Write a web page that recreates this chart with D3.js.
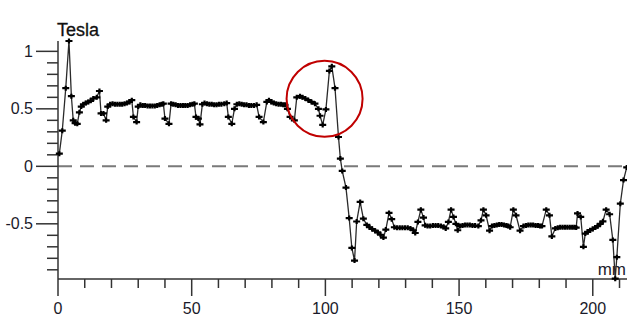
<!DOCTYPE html>
<html>
<head>
<meta charset="utf-8">
<script src="https://cdn.jsdelivr.net/npm/d3@7"></script>
<style>
  html, body { margin: 0; padding: 0; background: #fff; }
  svg { display: block; font-family: 'Liberation Sans', Arial, sans-serif; }
</style>
</head>
<body>
<svg id="chart" width="627" height="322"></svg>
<script>
// position along the magnet, mm
const positions = [
  0.5, 1.6, 2.9, 4.1, 5.0, 5.7, 6.4, 7.2, 8.0, 8.7, 9.5, 10.4, 11.3, 12.2, 13.2, 14.5, 15.5, 16.1, 17.0, 18.0, 18.6, 19.5,
  20.4, 21.3, 22.2, 23.1, 24.0, 24.9, 25.8, 26.7, 27.6, 28.2, 29.4, 30.0,
  30.8, 31.7, 32.6, 33.5, 34.4, 35.3, 36.2, 37.1, 38.0, 38.8, 39.4, 40.0, 41.5, 42.3,
  43.1, 44.0, 44.9, 45.8, 46.7, 47.6, 48.5, 49.4, 50.3, 51.0, 51.6, 52.5, 53.1, 54.0,
  54.8, 55.7, 56.6, 57.5, 58.4, 59.3, 60.2, 61.1, 62.2, 63.1, 63.7, 65.0, 66.0, 66.9,
  67.8, 68.7, 69.6, 70.5, 71.4, 72.3, 73.3, 74.3, 75.2, 76.8, 78.1, 78.9,
  79.8, 80.7, 81.6, 82.5, 83.4, 84.2, 84.9, 85.8, 86.8, 88.4, 89.3, 90.5, 91.4, 92.5, 93.6, 94.8, 96.1, 97.4, 98.0, 99.0,
  100.2, 101.5, 102.4, 103.6, 104.9, 105.6, 106.3, 107.7, 108.9, 109.9, 110.9, 111.7, 113.0, 114.2, 115.5, 116.5, 117.5,
  118.6, 119.6, 120.6, 121.7, 122.6, 123.8, 124.8, 125.8,
  126.8, 127.8, 128.8, 129.8, 130.8, 131.8, 132.9, 133.6, 134.6, 135.7, 136.7, 137.3,
  138.2, 139.2, 140.2, 141.2, 142.2, 143.2, 144.2, 145.0, 146.0, 147.0, 147.9, 148.8, 149.5, 150.4,
  151.3, 152.2, 153.1, 154.0, 155.0, 156.0, 157.2, 158.2, 159.1, 160.1, 161.4, 162.3,
  163.2, 164.1, 165.0, 165.9, 166.8, 167.7, 168.4, 169.1, 170.3, 171.3, 172.8, 174.1,
  175.0, 175.9, 176.8, 177.7, 178.6, 179.5, 180.3, 181.0, 182.6, 183.8, 184.7, 186.0,
  186.9, 187.8, 188.7, 189.6, 190.5, 191.4, 192.3, 193.1, 193.8, 194.3, 195.5, 196.5, 197.2, 198.1, 199.0, 200.0,
  200.9, 201.8, 202.8, 203.8, 205.0, 206.3, 207.5, 208.4, 209.0, 210.3, 211.5, 212.7
];

// field, Tesla
const field = [
  0.11, 0.31, 0.68, 1.09, 0.61, 0.40, 0.375, 0.37, 0.47, 0.52, 0.54, 0.55, 0.56, 0.57, 0.59, 0.60, 0.655, 0.46, 0.46, 0.40, 0.52, 0.54,
  0.545, 0.54, 0.54, 0.54, 0.54, 0.545, 0.55, 0.56, 0.575, 0.43, 0.385, 0.52,
  0.535, 0.53, 0.53, 0.525, 0.525, 0.525, 0.525, 0.53, 0.535, 0.54, 0.545, 0.415, 0.37, 0.545,
  0.54, 0.535, 0.53, 0.53, 0.53, 0.53, 0.53, 0.535, 0.54, 0.545, 0.43, 0.415, 0.365, 0.54,
  0.55, 0.545, 0.54, 0.54, 0.535, 0.535, 0.54, 0.54, 0.545, 0.55, 0.43, 0.37, 0.50, 0.54,
  0.545, 0.54, 0.535, 0.535, 0.53, 0.53, 0.53, 0.535, 0.43, 0.385, 0.56, 0.575,
  0.56, 0.55, 0.545, 0.54, 0.54, 0.535, 0.535, 0.50, 0.43, 0.40, 0.60, 0.61, 0.60, 0.59, 0.575, 0.56, 0.545, 0.50, 0.44, 0.36,
  0.495, 0.83, 0.87, 0.68, 0.255, 0.067, -0.04, -0.185, -0.45, -0.71, -0.82, -0.48, -0.31, -0.455, -0.51, -0.53, -0.545,
  -0.56, -0.575, -0.595, -0.62, -0.55, -0.405, -0.46, -0.53,
  -0.535, -0.535, -0.535, -0.535, -0.535, -0.54, -0.556, -0.58, -0.484, -0.377, -0.446, -0.513,
  -0.52, -0.52, -0.515, -0.515, -0.515, -0.52, -0.525, -0.54, -0.484, -0.377, -0.44, -0.50, -0.556, -0.52,
  -0.515, -0.51, -0.51, -0.51, -0.515, -0.515, -0.52, -0.47, -0.377, -0.426, -0.56, -0.52,
  -0.515, -0.51, -0.505, -0.505, -0.51, -0.515, -0.52, -0.53, -0.377, -0.426, -0.56, -0.52,
  -0.515, -0.51, -0.51, -0.51, -0.515, -0.515, -0.52, -0.52, -0.377, -0.426, -0.61, -0.54,
  -0.535, -0.53, -0.53, -0.53, -0.53, -0.53, -0.53, -0.53, -0.533, -0.41, -0.44, -0.70, -0.585, -0.57, -0.555, -0.545,
  -0.533, -0.52, -0.50, -0.478, -0.377, -0.417, -0.64, -0.977, -0.79, -0.325, -0.12, -0.01
];

const xMajor = [0, 50, 100, 150, 200];
const xMinor = [10, 20, 30, 40, 60, 70, 80, 90, 110, 120, 130, 140, 160, 170, 180, 190, 210];
const yMajor = [-0.5, 0, 0.5, 1];
const yMinor = [-0.9, -0.8, -0.7, -0.6, -0.4, -0.3, -0.2, -0.1, 0.1, 0.2, 0.3, 0.4, 0.6, 0.7, 0.8, 0.9];

// highlighted region (data coords)
const highlight = { x: 99.7, y: 0.587 };

const svg = d3.select('#chart');
const axisColor = '#333';

const x = d3.scaleLinear().domain([0, 212.8]).range([58, 627]);
const y = d3.scaleLinear().domain([-0.98, 1.09]).range([279, 41]);

const data = positions.map((p, i) => ({ x: p, y: field[i] }));

// zero reference line
svg.append('line')
  .attr('x1', x(0)).attr('x2', x(212.8))
  .attr('y1', y(0)).attr('y2', y(0))
  .attr('stroke', '#7a7a7a')
  .attr('stroke-width', 2)
  .attr('stroke-dasharray', '14,8');

// y axis
svg.append('line')
  .attr('x1', x(0)).attr('x2', x(0))
  .attr('y1', y(1.09)).attr('y2', y(-0.98))
  .attr('stroke', axisColor).attr('stroke-width', 1.5);

svg.append('g').selectAll('line')
  .data(yMajor.map(v => ({ v, len: 22 })).concat(yMinor.map(v => ({ v, len: 11 }))))
  .join('line')
  .attr('x1', d => x(0) - d.len).attr('x2', x(0))
  .attr('y1', d => y(d.v)).attr('y2', d => y(d.v))
  .attr('stroke', axisColor).attr('stroke-width', 1.5);

svg.append('g').selectAll('text')
  .data(yMajor)
  .join('text')
  .attr('x', 33)
  .attr('y', d => y(d))
  .attr('dy', '0.35em')
  .attr('text-anchor', 'end')
  .attr('font-size', 16)
  .attr('fill', '#1a1a2a')
  .text(d => d);

// x axis
svg.append('line')
  .attr('x1', x(0)).attr('x2', 627)
  .attr('y1', y(-0.98)).attr('y2', y(-0.98))
  .attr('stroke', axisColor).attr('stroke-width', 1.5);

svg.append('g').selectAll('line')
  .data(xMajor.map(v => ({ v, len: 17 })).concat(xMinor.map(v => ({ v, len: 9 }))))
  .join('line')
  .attr('x1', d => x(d.v)).attr('x2', d => x(d.v))
  .attr('y1', y(-0.98)).attr('y2', d => y(-0.98) + d.len)
  .attr('stroke', axisColor).attr('stroke-width', 1.5);

svg.append('g').selectAll('text')
  .data(xMajor)
  .join('text')
  .attr('x', d => x(d))
  .attr('y', 314)
  .attr('text-anchor', 'middle')
  .attr('font-size', 16)
  .attr('fill', '#1a1a2a')
  .text(d => d);

// unit labels
svg.append('text')
  .attr('x', 57).attr('y', 36)
  .attr('font-size', 18)
  .attr('fill', '#111')
  .attr('stroke', '#111')
  .attr('stroke-width', 0.3)
  .text('Tesla');

svg.append('text')
  .attr('x', 626).attr('y', 275)
  .attr('text-anchor', 'end')
  .attr('font-size', 17)
  .attr('fill', '#1a1a2a')
  .text('mm');

// series
const line = d3.line().x(d => x(d.x)).y(d => y(d.y));

svg.append('path')
  .datum(data)
  .attr('d', line)
  .attr('fill', 'none')
  .attr('stroke', '#2a2a2a')
  .attr('stroke-width', 1.3);

svg.append('g').selectAll('path')
  .data(data)
  .join('path')
  .attr('transform', d => `translate(${x(d.x)},${y(d.y)})`)
  .attr('d', 'M-3.5,0H3.5M0,-2.5V2.5')
  .attr('stroke', '#000')
  .attr('stroke-width', 2.2);

// highlight circle
svg.append('circle')
  .attr('cx', x(highlight.x))
  .attr('cy', y(highlight.y))
  .attr('r', 38)
  .attr('fill', 'none')
  .attr('stroke', '#c00000')
  .attr('stroke-width', 2);
</script>
</body>
</html>
